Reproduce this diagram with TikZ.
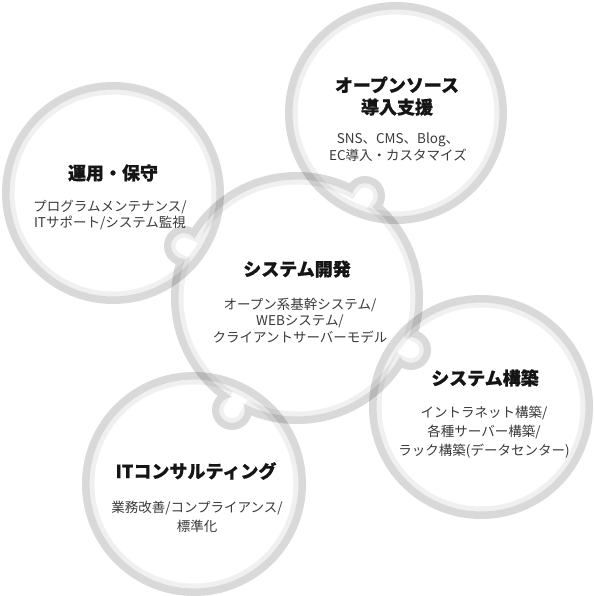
\documentclass[tikz,border=0pt]{standalone}
\usepackage{fontspec}
\usetikzlibrary{calc}
\setmainfont{Noto Sans CJK JP}
\newfontfamily\heavyfont{Noto Sans CJK JP}[BoldFeatures={FakeBold=0.6}]
\definecolor{titlecol}{HTML}{151515}
\definecolor{subcol}{HTML}{3A3A3A}
\tikzset{
  darkband/.style={fill=black, fill opacity=0.15},
  lightband/.style={fill=black, fill opacity=0.06},
  ttl/.style={font=\fontsize{18}{22}\selectfont\heavyfont\bfseries, text=titlecol, align=center, inner sep=0pt},
  subtxt/.style={font=\fontsize{13.5}{16.5}\selectfont, text=subcol, align=center, inner sep=0pt},
  subwide/.style={font=\fontsize{13.5}{19}\selectfont, text=subcol, align=center, inner sep=0pt},
}
\begin{document}
\begin{tikzpicture}[x=1pt,y=-1pt]
\useasboundingbox (0,0) rectangle (594,596);
\fill[white] (0,0) rectangle (594,596);
% centres
\coordinate (A) at (113,193);
\coordinate (B) at (396,113);
\coordinate (C) at (297,298);
\coordinate (D) at (481,407);
\coordinate (E) at (194,484);
\coordinate (kA) at (184,246);
\coordinate (kB) at (365,196);
\coordinate (kD) at (411,350);
\coordinate (kE) at (232,410);
\foreach \k in {kA,kB,kD,kE}{
  \coordinate (\k n) at ($(\k)!22pt!(C)$);
}
% simple rings
\foreach \c/\r in {A/111,B/111,D/112,E/112}{
  \pgfmathsetmacro{\rm}{\r-7.5}
  \pgfmathsetmacro{\ri}{\r-12.5}
  \fill[darkband, even odd rule] (\c) circle (\r pt) (\c) circle (\rm pt);
  \fill[lightband, even odd rule] (\c) circle (\rm pt) (\c) circle (\ri pt);
}
% central ring with knobs: dark band
\begin{scope}[even odd rule]
  \clip (0,0) rectangle (594,596) (C) circle (118.5pt);
  \clip (0,0) rectangle (594,596) (kA) circle (13pt);
  \clip (0,0) rectangle (594,596) (kB) circle (13pt);
  \clip (0,0) rectangle (594,596) (kD) circle (13pt);
  \clip (0,0) rectangle (594,596) (kE) circle (13pt);
  \fill[darkband, nonzero rule] (C) circle (126pt) (kA) circle (20pt) (kB) circle (20pt)
    (kD) circle (20pt) (kE) circle (20pt);
\end{scope}
% central ring with knobs: light band
\begin{scope}[even odd rule]
  \clip (0,0) rectangle (594,596) (C) circle (113.5pt);
  \clip (0,0) rectangle (594,596) (kA) circle (8.5pt);
  \clip (0,0) rectangle (594,596) (kB) circle (8.5pt);
  \clip (0,0) rectangle (594,596) (kD) circle (8.5pt);
  \clip (0,0) rectangle (594,596) (kE) circle (8.5pt);
  \foreach \k in {kA,kB,kD,kE}{
    \clip (0,0) rectangle (594,596)
      ($(\k)!8.5pt!90:(C)$) -- ($(\k)!8.5pt!-90:(C)$)
      -- ($(\k n)!8.5pt!90:(\k)$) -- ($(\k n)!8.5pt!-90:(\k)$) -- cycle;
  }
  \fill[lightband, nonzero rule] (C) circle (118.5pt) (kA) circle (13pt) (kB) circle (13pt)
    (kD) circle (13pt) (kE) circle (13pt);
\end{scope}
% texts
\node[ttl] (tA) at (113,173) {運用・保守};
\node[subtxt] (sA) at (110,215) {プログラムメンテナンス/\\ITサポート/システム監視};
\node[ttl] (tB) at (397,96) {オープンソース\\導入支援};
\node[subtxt] (sB) at (398,147) {SNS、CMS、Blog、\\EC導入・カスタマイズ};
\node[ttl] (tC) at (297,269) {システム開発};
\node[subtxt] (sC) at (300,320.5) {オープン系基幹システム/\\WEBシステム/\\クライアントサーバーモデル};
\node[ttl] (tD) at (485,378) {システム構築};
\node[subwide] (sD) at (484,432) {イントラネット構築/\\各種サーバー構築/\\ラック構築(データセンター)};
\node[ttl] (tE) at (196,471) {ITコンサルティング};
\node[subwide] (sE) at (197,516.5) {業務改善/コンプライアンス/\\標準化};
\end{tikzpicture}
\end{document}
